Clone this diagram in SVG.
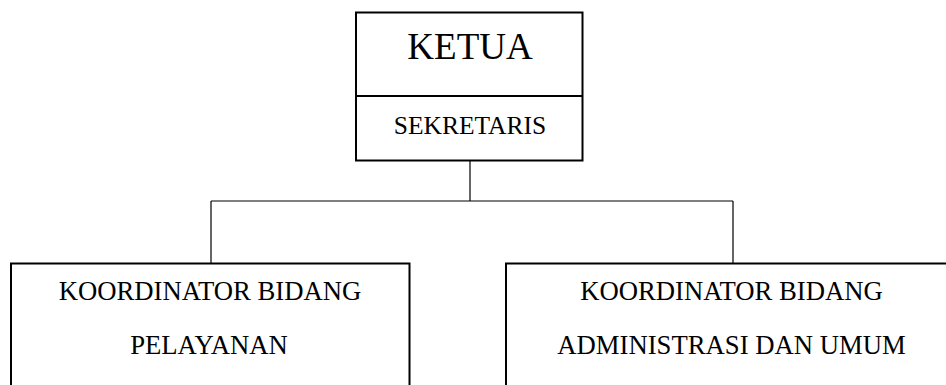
<svg xmlns="http://www.w3.org/2000/svg" width="946" height="385" viewBox="0 0 946 385">
  <style>
    .box { fill: #ffffff; stroke: #000000; stroke-width: 2; }
    .link { fill: none; stroke: #000000; stroke-width: 1.2; }
    text { font-family: "Liberation Serif", "Times New Roman", serif; fill: #000000; text-anchor: middle; }
    .unit { font-size: 26.7px; }
  </style>
  <rect width="946" height="385" fill="#ffffff"/>

  <!-- connectors -->
  <g id="connectors">
    <path class="link" d="M470 161 V201 M211 201 H733 M211 201 V263 M733 201 V263"/>
  </g>

  <!-- head box: chair with secretary -->
  <g id="ketua">
    <rect class="box" x="356" y="12.5" width="226.5" height="148"/>
    <line class="box" x1="356" y1="96" x2="582.5" y2="96"/>
    <text x="470" y="58.5" font-size="37">KETUA</text>
  </g>
  <g id="sekretaris">
    <text x="470" y="133.5" font-size="25.5">SEKRETARIS</text>
  </g>

  <!-- service coordinator -->
  <g id="pelayanan">
    <rect class="box" x="11" y="263.5" width="398.5" height="140"/>
    <text class="unit" x="210" y="300">KOORDINATOR BIDANG</text>
    <text class="unit" x="209" y="354">PELAYANAN</text>
  </g>

  <!-- administration coordinator -->
  <g id="administrasi">
    <rect class="box" x="506" y="263.5" width="452" height="140"/>
    <text class="unit" x="731.5" y="300">KOORDINATOR BIDANG</text>
    <text class="unit" x="731.5" y="354">ADMINISTRASI DAN UMUM</text>
  </g>
</svg>
